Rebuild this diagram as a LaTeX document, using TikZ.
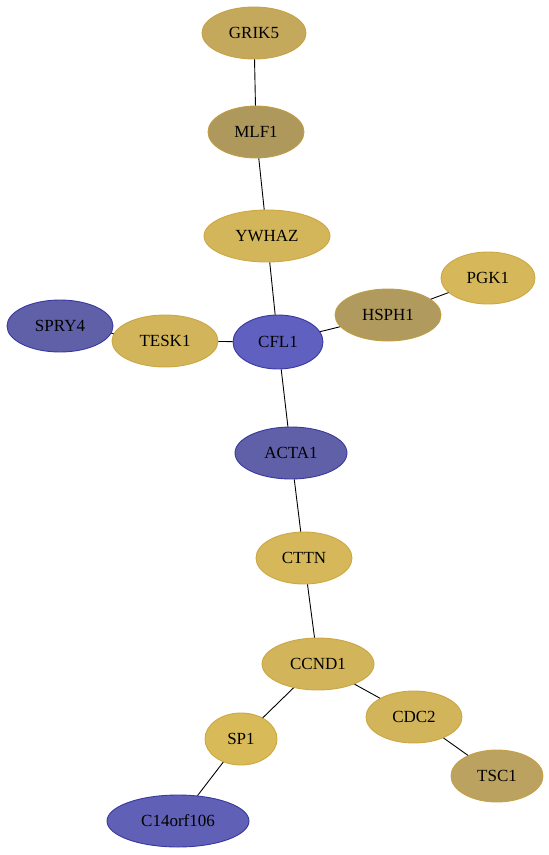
\documentclass[tikz,border=0pt]{standalone}
\usepackage{fontspec}
\setmainfont{Liberation Serif}
\usetikzlibrary{shapes.geometric}
\definecolor{goldA}{HTML}{C4A85C}
\definecolor{goldB}{HTML}{AE985C}
\definecolor{goldC}{HTML}{D4B65A}
\definecolor{goldD}{HTML}{D6B85A}
\definecolor{goldE}{HTML}{B09A5E}
\definecolor{goldF}{HTML}{D2B45A}
\definecolor{goldG}{HTML}{D8BA58}
\definecolor{goldH}{HTML}{BCA260}
\definecolor{blueA}{HTML}{6060A8}
\definecolor{blueB}{HTML}{6060C0}
\definecolor{blueC}{HTML}{6060B6}
\definecolor{goldrim}{HTML}{C8A038}
\definecolor{bluerim}{HTML}{3838A0}
\begin{document}
\begin{tikzpicture}[
x=1pt, y=-1pt,
gold/.style={ellipse, fill=#1, draw=goldrim!70!#1, line width=0.9pt, inner sep=0pt, minimum height=52pt, font=\fontsize{17}{19}\selectfont},
blue/.style={ellipse, fill=#1, draw=bluerim, line width=0.9pt, inner sep=0pt, minimum height=52pt, font=\fontsize{17}{19}\selectfont},
link/.style={draw=black, line width=0.9pt},
]
\useasboundingbox (0,0) rectangle (549,855);
% gene nodes
\node (GRIK5) [gold=goldA, minimum width=104pt] at (254,33) {GRIK5};
\node (MLF1) [gold=goldB, minimum width=96pt] at (256,132) {MLF1};
\node (YWHAZ) [gold=goldC, minimum width=126pt] at (267,236) {YWHAZ};
\node (PGK1) [gold=goldD, minimum width=94pt] at (488,278) {PGK1};
\node (HSPH1) [gold=goldE, minimum width=106pt] at (388,315) {HSPH1};
\node (SPRY4) [blue=blueA, minimum width=106pt] at (60,326) {SPRY4};
\node (TESK1) [gold=goldF, minimum width=106pt] at (165,341) {TESK1};
\node (CFL1) [blue=blueB, minimum width=90pt, minimum height=54pt] at (278,342) {CFL1};
\node (ACTA1) [blue=blueA, minimum width=112pt] at (291,453) {ACTA1};
\node (CTTN) [gold=goldD, minimum width=96pt] at (304,558) {CTTN};
\node (CCND1) [gold=goldF, minimum width=112pt] at (318,664) {CCND1};
\node (CDC2) [gold=goldF, minimum width=96pt] at (414,717) {CDC2};
\node (SP1) [gold=goldG, minimum width=72pt] at (241,739) {SP1};
\node (TSC1) [gold=goldH, minimum width=92pt] at (497,776) {TSC1};
\node (C14orf106) [blue=blueC, minimum width=142pt] at (178,821) {C14orf106};
% interactions
\draw[link] (GRIK5) -- (MLF1);
\draw[link] (MLF1) -- (YWHAZ);
\draw[link] (YWHAZ) -- (CFL1);
\draw[link] (CFL1) -- (TESK1);
\draw[link] (TESK1) -- (SPRY4);
\draw[link] (CFL1) -- (HSPH1);
\draw[link] (HSPH1) -- (PGK1);
\draw[link] (CFL1) -- (ACTA1);
\draw[link] (ACTA1) -- (CTTN);
\draw[link] (CTTN) -- (CCND1);
\draw[link] (CCND1) -- (SP1);
\draw[link] (SP1) -- (C14orf106);
\draw[link] (CCND1) -- (CDC2);
\draw[link] (CDC2) -- (TSC1);
\end{tikzpicture}
\end{document}
